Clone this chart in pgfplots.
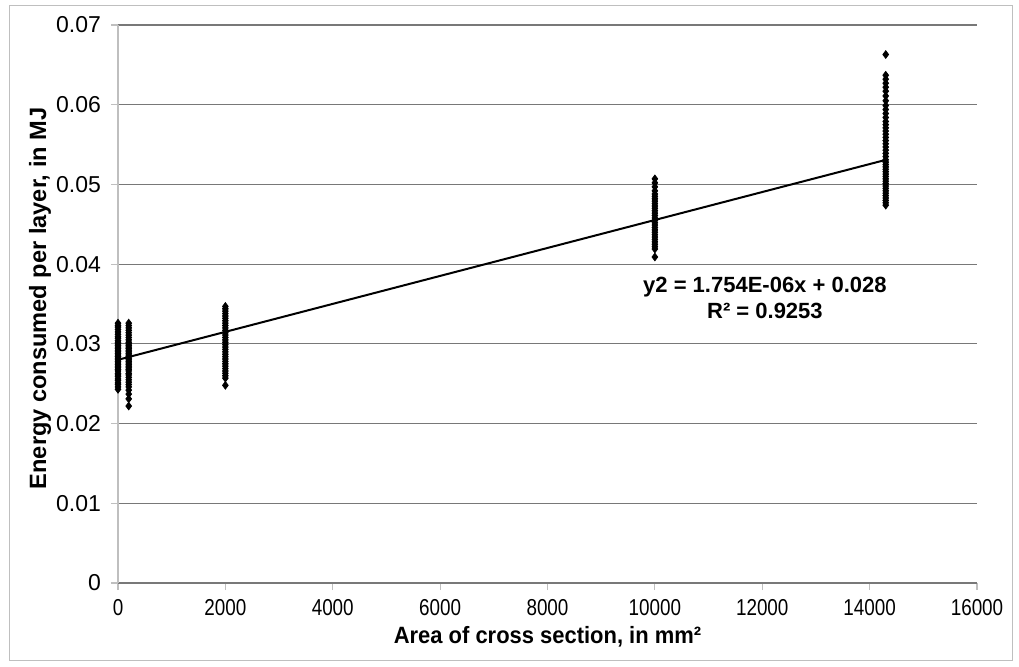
\documentclass[border=0pt]{standalone}
\usepackage{fontspec}
\setmainfont{Liberation Sans}
\usepackage{pgfplots}
\pgfplotsset{compat=1.18}
\definecolor{gridgray}{RGB}{120,120,120}
\definecolor{axgray}{RGB}{191,191,191}
\begin{document}
\begin{tikzpicture}
  % page frame: 1019x666 px at 0.5pt per px
  \path[use as bounding box] (0pt,0pt) rectangle (509.5pt,333pt);
  \draw[axgray, line width=0.5pt] (4.5pt,3pt) rectangle (506pt,330pt);
  \begin{axis}[
      at={(59pt,41.5pt)},
      anchor=south west,
      scale only axis,
      width=429.5pt,
      height=279pt,
      scaled ticks=false,
      % x axis
      xmin=0, xmax=16000,
      xtick={0,2000,...,16000},
      % y axis
      ymin=0, ymax=0.07,
      ytick={0,0.01,0.02,0.03,0.04,0.05,0.06,0.07},
      ymajorgrids,
      major grid style={gridgray, line width=0.6pt},
      axis x line*=bottom,
      axis y line*=left,
      x axis line style={gridgray, line width=0.8pt, -},
      y axis line style={axgray, line width=0.6pt, -},
      tick style={axgray, line width=0.6pt},
      tick align=outside,
      major tick length=3.5pt,
      every tick label/.append style={font=\fontsize{11.5}{13}\selectfont, text=black},
      /pgf/number format/assume math mode=true,
      /pgf/number format/1000 sep={},
      yticklabel style={/pgf/number format/fixed, /pgf/number format/precision=2,
        anchor=east, xshift=-1.5pt},
      xticklabel style={xscale=0.82, yshift=-1pt},
      xlabel={\bfseries Area of cross section, in mm²},
      ylabel={\bfseries Energy consumed per layer, in MJ},
      label style={font=\fontsize{11.8}{14}\selectfont},
      xlabel style={at={(axis description cs:0.5,-0.0968)}, anchor=center, xscale=0.93},
      ylabel style={at={(axis description cs:-0.0908,0.51)}, anchor=center},
      clip=false
    ]
    % scatter of measured layers
    \addplot[only marks, mark=diamond*, mark size=1.9pt, black] coordinates {
      (0,0.0243) (0,0.0246) (0,0.0249) (0,0.0251) (0,0.0254) (0,0.0256)
      (0,0.0259) (0,0.0261) (0,0.0263) (0,0.0266) (0,0.0268) (0,0.0270)
      (0,0.0272) (0,0.0274) (0,0.0276) (0,0.0278) (0,0.0280) (0,0.0282)
      (0,0.0284) (0,0.0286) (0,0.0288) (0,0.0290) (0,0.0292) (0,0.0294)
      (0,0.0296) (0,0.0298) (0,0.0300) (0,0.0302) (0,0.0304) (0,0.0307)
      (0,0.0309) (0,0.0312) (0,0.0315) (0,0.0318) (0,0.0321) (0,0.0323)
      (0,0.0326)
      (200,0.0222) (200,0.0231) (200,0.0237) (200,0.0242) (200,0.0246)
      (200,0.0249) (200,0.0252) (200,0.0255) (200,0.0258) (200,0.0261)
      (200,0.0263) (200,0.0266) (200,0.0268) (200,0.0270) (200,0.0272)
      (200,0.0274) (200,0.0276) (200,0.0278) (200,0.0280) (200,0.0282)
      (200,0.0284) (200,0.0286) (200,0.0288) (200,0.0290) (200,0.0292)
      (200,0.0294) (200,0.0296) (200,0.0298) (200,0.0300) (200,0.0302)
      (200,0.0305) (200,0.0308) (200,0.0311) (200,0.0314) (200,0.0317)
      (200,0.0320) (200,0.0323) (200,0.0326)
      (2000,0.0248) (2000,0.0257) (2000,0.0260) (2000,0.0263) (2000,0.0266)
      (2000,0.0269) (2000,0.0272) (2000,0.0275) (2000,0.0278) (2000,0.0281)
      (2000,0.0284) (2000,0.0287) (2000,0.0290) (2000,0.0293) (2000,0.0296)
      (2000,0.0299) (2000,0.0302) (2000,0.0305) (2000,0.0308) (2000,0.0311)
      (2000,0.0314) (2000,0.0317) (2000,0.0320) (2000,0.0323) (2000,0.0326)
      (2000,0.0329) (2000,0.0332) (2000,0.0335) (2000,0.0338) (2000,0.0341)
      (2000,0.0344) (2000,0.0347)
      (10000,0.0409) (10000,0.0419) (10000,0.0422) (10000,0.0425) (10000,0.0428)
      (10000,0.0431) (10000,0.0434) (10000,0.0437) (10000,0.0440) (10000,0.0443)
      (10000,0.0446) (10000,0.0449) (10000,0.0452) (10000,0.0455) (10000,0.0458)
      (10000,0.0461) (10000,0.0464) (10000,0.0467) (10000,0.0470) (10000,0.0473)
      (10000,0.0476) (10000,0.0479) (10000,0.0482) (10000,0.0485) (10000,0.0488)
      (10000,0.0492) (10000,0.0497) (10000,0.0502) (10000,0.0507)
      (14300,0.0474) (14300,0.0477) (14300,0.0480) (14300,0.0483) (14300,0.0486)
      (14300,0.0489) (14300,0.0492) (14300,0.0495) (14300,0.0498) (14300,0.0501)
      (14300,0.0504) (14300,0.0507) (14300,0.0510) (14300,0.0513) (14300,0.0516)
      (14300,0.0519) (14300,0.0522) (14300,0.0525) (14300,0.0528) (14300,0.0531)
      (14300,0.0535) (14300,0.0539) (14300,0.0543) (14300,0.0547) (14300,0.0551)
      (14300,0.0555) (14300,0.0559) (14300,0.0563) (14300,0.0567) (14300,0.0571)
      (14300,0.0575) (14300,0.0579) (14300,0.0584) (14300,0.0589) (14300,0.0594)
      (14300,0.0599) (14300,0.0605) (14300,0.0611) (14300,0.0617) (14300,0.0622)
      (14300,0.0627) (14300,0.0632) (14300,0.0637) (14300,0.0663)
    };
    % linear trend line
    \addplot[black, line width=1pt] coordinates {(0,0.028) (14300,0.053082)};
    \node[align=center, font=\fontsize{11}{13}\selectfont\bfseries]
      at (axis cs:12050,0.0357) {y2 = 1.754E-06x + 0.028\\R² = 0.9253};
  \end{axis}
\end{tikzpicture}
\end{document}
